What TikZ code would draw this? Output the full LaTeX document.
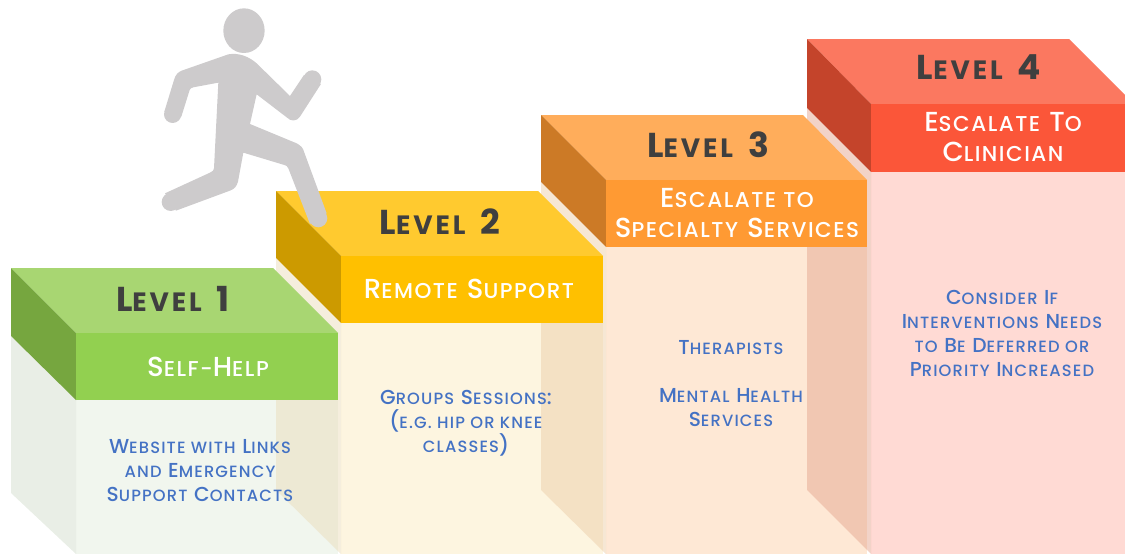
\documentclass[tikz,border=0pt]{standalone}
\usepackage{fontspec}
\setmainfont{Poppins}[UprightFont={* Medium},BoldFont={* Bold},UprightFeatures={LetterSpace=7},BoldFeatures={LetterSpace=11}]
\usepackage{tikz}

\definecolor{greenT}{HTML}{A8D672}
\definecolor{greenF}{HTML}{92D050}
\definecolor{greenS}{HTML}{76A63F}
\definecolor{greenB}{HTML}{F1F6EE}
\definecolor{greenW}{HTML}{E9EEE6}
\definecolor{yellowT}{HTML}{FFCA2F}
\definecolor{yellowF}{HTML}{FFC000}
\definecolor{yellowS}{HTML}{CC9A00}
\definecolor{yellowB}{HTML}{FDF5E0}
\definecolor{yellowW}{HTML}{EBDDBC}
\definecolor{orangeT}{HTML}{FFAD5B}
\definecolor{orangeF}{HTML}{FF9A33}
\definecolor{orangeS}{HTML}{CC7A26}
\definecolor{orangeB}{HTML}{FEE8D5}
\definecolor{orangeW}{HTML}{EDCFAA}
\definecolor{redT}{HTML}{FB7860}
\definecolor{redF}{HTML}{FB5639}
\definecolor{redS}{HTML}{C4442B}
\definecolor{redB}{HTML}{FFDAD4}
\definecolor{redW}{HTML}{E6A891}
\definecolor{runnerC}{HTML}{CDCBCC}
\definecolor{bodyC}{HTML}{4472C4}
\definecolor{titleC}{HTML}{3F3F3F}

% small letters of the faked small caps
\newcommand{\sm}[1]{{\fontsize{\smsize}{\smsize}\selectfont #1}}
\newcommand{\smsize}{10}

\begin{document}
\begin{tikzpicture}[x=1pt,y=-1pt,
    titletext/.style={text=titleC,font=\fontsize{34.5}{35}\selectfont\bfseries\renewcommand{\smsize}{26.5}},
    subtext/.style={text=white,align=center,font=\fontsize{27.5}{30}\selectfont\renewcommand{\smsize}{21.5}},
    bodytext/.style={text=bodyC,align=center,font=\fontsize{20.2}{24}\selectfont\renewcommand{\smsize}{16.3}},
    wall/.style={opacity=.5}]
    \useasboundingbox (0,0) rectangle (1125,554);
    % level 1 body
    \fill [greenB] (76,400) rectangle (338,554);
    \fill [greenW] (11,336)--(76,400)--(76,554)--(11,493)--cycle;
    % level 2 body
    \fill [yellowB] (341,323) rectangle (603,554);
    \fill [yellowW, wall] (276,258)--(341,323)--(341,554)--(276,490)--cycle;
    % level 3 body
    \fill [orangeB] (606,247) rectangle (867,554);
    \fill [orangeW, wall] (541,182)--(606,247)--(606,554)--(541,490)--cycle;
    % level 4 body
    \fill [redB] (871,172) rectangle (1125,554);
    \fill [redW, wall] (807,108)--(871,172)--(871,554)--(807,490)--cycle;
    % level 4 block
    \fill [redT] (807,39)--(1069,39)--(1134,104)--(871,104)--cycle;
    \fill [redS] (807,39)--(871,104)--(871,172)--(807,108)--cycle;
    \fill [redF] (871,104) rectangle (1125,172);
    % level 3 block
    \fill [orangeT] (541,115)--(803,115)--(867,180)--(606,180)--cycle;
    \fill [orangeS] (541,115)--(606,180)--(606,247)--(541,182)--cycle;
    \fill [orangeF] (606,180) rectangle (867,247);
    % level 2 block
    \fill [yellowT] (276,191)--(538,191)--(603,256)--(341,256)--cycle;
    \fill [yellowS] (276,191)--(341,256)--(341,323)--(276,258)--cycle;
    \fill [yellowF] (341,256) rectangle (603,323);
    % level 1 block
    \fill [greenT] (11,268)--(273,268)--(338,333)--(76,333)--cycle;
    \fill [greenS] (11,268)--(76,333)--(76,400)--(11,336)--cycle;
    \fill [greenF] (76,333) rectangle (338,400);
    % runner
    \begin{scope}[shift={(150,0)},x=.3333pt,y=-.3333pt]
        \fill [runnerC] (282,92) ellipse [x radius=62, y radius=67];
        \fill [runnerC] (235,163) .. controls (265,158) and (295,168) .. (320,190)
            --(420,288)--(462,225)--(513,252)--(450,350) .. controls (440,365) and (422,365) .. (410,352)
            --(320,283)--(300,372)--(440,430) .. controls (452,436) and (460,445) .. (462,455)
            --(530,640)--(480,672)--(415,505) .. controls (412,498) and (408,496) .. (403,495)
            --(280,458)--(264,545) .. controls (260,560) and (252,568) .. (240,572)
            --(78,632)--(45,580)--(180,518) .. controls (188,515) and (192,510) .. (192,505)
            --(205,248)--(130,262) .. controls (124,263) and (121,266) .. (119,270)
            --(94,350)--(43,335)--(72,240) .. controls (76,225) and (84,216) .. (95,212)--cycle;
        \fill [runnerC] (68,343) circle [radius=26];
        \fill [runnerC] (487,238) circle [radius=27];
        \fill [runnerC] (505,655) circle [radius=27];
        \fill [runnerC] (62,606) circle [radius=27];
    \end{scope}
    % labels
    \node [titletext] (title1) at (173,299) {L\sm{EVEL}\hspace{4pt} 1};
    \node [titletext] (title2) at (440,222) {L\sm{EVEL}\hspace{4pt} 2};
    \node [titletext] (title3) at (708,145) {L\sm{EVEL}\hspace{4pt} 3};
    \node [titletext] (title4) at (979,67) {L\sm{EVEL}\hspace{4pt} 4};
    \node [subtext] (sub1) at (208,367) {S\sm{ELF-}H\sm{ELP}};
    \node [subtext] (sub2) at (469,289) {R\sm{EMOTE} S\sm{UPPORT}};
    \node [subtext] (sub3) at (737,213) {E\sm{SCALATE TO}\\S\sm{PECIALTY} S\sm{ERVICES}};
    \node [subtext] (sub4) at (1003,137) {E\sm{SCALATE} T\sm{O}\\C\sm{LINICIAN}};
    \node [bodytext] (text1) at (200,470.5) {W\sm{EBSITE WITH} L\sm{INKS}\\\sm{AND} E\sm{MERGENCY}\\S\sm{UPPORT} C\sm{ONTACTS}};
    \node [bodytext] (text2) at (466,423.5) {G\sm{ROUPS} S\sm{ESSIONS}:\\(\sm{E.G. HIP OR KNEE}\\\sm{CLASSES})};
    \node [bodytext] (text3a) at (731,347.5) {T\sm{HERAPISTS}};
    \node [bodytext] (text3b) at (731,407.5) {M\sm{ENTAL} H\sm{EALTH}\\S\sm{ERVICES}};
    \node [bodytext] (text4) at (1002,333) {C\sm{ONSIDER} I\sm{F}\\I\sm{NTERVENTIONS} N\sm{EEDS}\\\sm{TO} B\sm{E} D\sm{EFERRED OR}\\P\sm{RIORITY} I\sm{NCREASED}};
\end{tikzpicture}
\end{document}
